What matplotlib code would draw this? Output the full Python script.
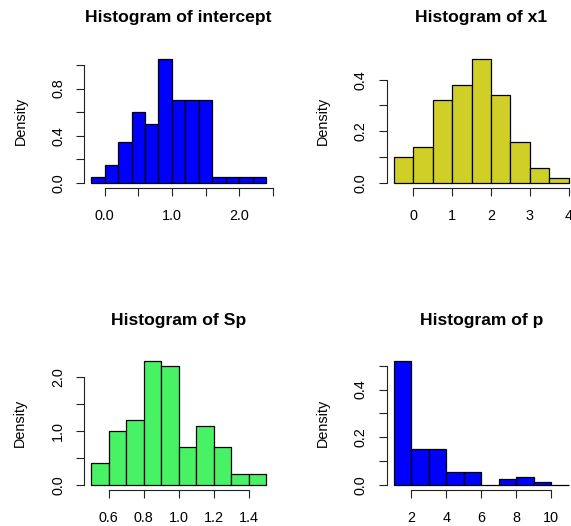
import matplotlib
matplotlib.use("Agg")
from matplotlib import pyplot as plt
import numpy as np

plt.rcParams['font.family'] = ['Liberation Sans', 'DejaVu Sans']

# bin breaks and densities
intercept_breaks = [-0.2, 0.0, 0.2, 0.4, 0.6, 0.8, 1.0, 1.2, 1.4, 1.6, 1.8, 2.0, 2.2, 2.4]
intercept_density = [0.05, 0.15, 0.35, 0.6, 0.5, 1.05, 0.7, 0.7, 0.7, 0.05, 0.05, 0.05, 0.05]

x1_breaks = [-0.5, 0.0, 0.5, 1.0, 1.5, 2.0, 2.5, 3.0, 3.5, 4.0]
x1_density = [0.10, 0.14, 0.32, 0.38, 0.48, 0.34, 0.16, 0.06, 0.02]

sp_breaks = [0.5, 0.6, 0.7, 0.8, 0.9, 1.0, 1.1, 1.2, 1.3, 1.4, 1.5]
sp_density = [0.4, 1.0, 1.2, 2.3, 2.2, 0.7, 1.1, 0.7, 0.2, 0.2]

p_breaks = [1, 2, 3, 4, 5, 6, 7, 8, 9, 10, 11]
p_density = [0.52, 0.15, 0.15, 0.055, 0.055, 0.0, 0.025, 0.035, 0.012, 0.0]

# ticks and labels (R drops the labels that would overlap)
intercept_xticks = [0.0, 0.5, 1.0, 1.5, 2.0, 2.5]
intercept_xlabels = ["0.0", "", "1.0", "", "2.0", ""]
intercept_yticks = [0.0, 0.2, 0.4, 0.6, 0.8, 1.0]
intercept_ylabels = ["0.0", "", "0.4", "", "0.8", ""]

x1_xticks = [0, 1, 2, 3, 4]
x1_xlabels = ["0", "1", "2", "3", "4"]
x1_yticks = [0.0, 0.1, 0.2, 0.3, 0.4]
x1_ylabels = ["0.0", "", "0.2", "", "0.4"]

sp_xticks = [0.6, 0.8, 1.0, 1.2, 1.4]
sp_xlabels = ["0.6", "0.8", "1.0", "1.2", "1.4"]
sp_yticks = [0.0, 0.5, 1.0, 1.5, 2.0]
sp_ylabels = ["0.0", "", "1.0", "", "2.0"]

p_xticks = [2, 4, 6, 8, 10]
p_xlabels = ["2", "4", "6", "8", "10"]
p_yticks = [0.0, 0.1, 0.2, 0.3, 0.4, 0.5]
p_ylabels = ["0.0", "", "0.2", "", "0.4", ""]

W, H = 571, 526
fig = plt.figure(figsize=(W / 100, H / 100), dpi=100)


def add_axes_px(left, top, right, bottom):
    # plot region given in pixels from the top-left corner
    return fig.add_axes([left / W, 1 - bottom / H, (right - left) / W, (bottom - top) / H])


def draw_hist(ax, breaks, dens, color, title, xticks, xlabels, yticks, ylabels):
    breaks = np.array(breaks, dtype=float)
    widths = np.diff(breaks)
    ax.bar(breaks[:-1], dens, width=widths, align='edge', color=color,
           edgecolor='black', linewidth=0.9)

    # R style: 4% padding around the data range
    xr = breaks[-1] - breaks[0]
    ax.set_xlim(breaks[0] - 0.04 * xr, breaks[-1] + 0.04 * xr)
    ymax = max(dens)
    ax.set_ylim(-0.04 * ymax, ymax * 1.04)

    for s in ['top', 'right']:
        ax.spines[s].set_visible(False)
    for s in ['left', 'bottom']:
        ax.spines[s].set_linewidth(0.8)
        ax.spines[s].set_color('#222222')
    ax.spines['bottom'].set_bounds(xticks[0], xticks[-1])
    ax.spines['left'].set_bounds(yticks[0], yticks[-1])

    ax.set_xticks(xticks)
    ax.set_xticklabels(xlabels)
    ax.set_yticks(yticks)
    ax.set_yticklabels(ylabels, rotation=90, va='center')
    ax.tick_params(axis='both', direction='out', length=5.8, width=0.8,
                   color='#222222', labelsize=10.4)
    ax.tick_params(axis='x', pad=9.5)
    ax.tick_params(axis='y', pad=8)
    ax.patch.set_visible(False)

    ax.text(0.5, 1 + 36 / 134, title, transform=ax.transAxes, ha='center',
            va='center', fontsize=12.6, fontweight='bold')
    ax.text(-64 / 189, 0.5, "Density", transform=ax.transAxes, ha='center',
            va='center', rotation=90, fontsize=10.4)


ax1 = add_axes_px(84.3, 54, 273.0, 188)
draw_hist(ax1, intercept_breaks, intercept_density, '#0000FF', "Histogram of intercept",
          intercept_xticks, intercept_xlabels, intercept_yticks, intercept_ylabels)

ax2 = add_axes_px(386.9, 54, 575.7, 188)
draw_hist(ax2, x1_breaks, x1_density, '#CFCF27', "Histogram of x1",
          x1_xticks, x1_xlabels, x1_yticks, x1_ylabels)

ax3 = add_axes_px(84.2, 356, 273.2, 490)
draw_hist(ax3, sp_breaks, sp_density, '#47F265', "Histogram of Sp",
          sp_xticks, sp_xlabels, sp_yticks, sp_ylabels)

ax4 = add_axes_px(386.8, 356, 575.8, 490)
draw_hist(ax4, p_breaks, p_density, '#0000FF', "Histogram of p",
          p_xticks, p_xlabels, p_yticks, p_ylabels)

fig.savefig('out.png', dpi=100)
